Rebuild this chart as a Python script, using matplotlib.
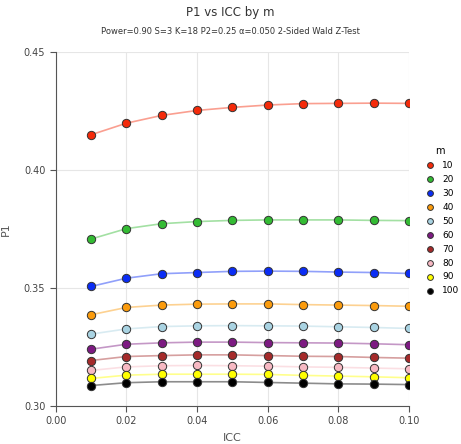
import numpy as np
import matplotlib.pyplot as plt

icc = [0.01, 0.02, 0.03, 0.04, 0.05, 0.06, 0.07, 0.08, 0.09, 0.10]
m_values = [10, 20, 30, 40, 50, 60, 70, 80, 90, 100]

p1_m10 = [0.4149, 0.4198, 0.4231, 0.4252, 0.4265, 0.4275, 0.4281, 0.4282, 0.4283, 0.4282]
p1_m20 = [0.3707, 0.3751, 0.3772, 0.3781, 0.3786, 0.3788, 0.3788, 0.3788, 0.3786, 0.3785]
p1_m30 = [0.3506, 0.3541, 0.3560, 0.3565, 0.3570, 0.3571, 0.3570, 0.3567, 0.3565, 0.3561]
p1_m40 = [0.3386, 0.3417, 0.3427, 0.3431, 0.3432, 0.3432, 0.3429, 0.3427, 0.3425, 0.3422]
p1_m50 = [0.3304, 0.3326, 0.3336, 0.3339, 0.3340, 0.3339, 0.3338, 0.3335, 0.3332, 0.3328]
p1_m60 = [0.3240, 0.3261, 0.3267, 0.3270, 0.3270, 0.3268, 0.3267, 0.3266, 0.3263, 0.3259]
p1_m70 = [0.3192, 0.3209, 0.3213, 0.3216, 0.3216, 0.3213, 0.3210, 0.3209, 0.3205, 0.3202]
p1_m80 = [0.3150, 0.3165, 0.3170, 0.3171, 0.3170, 0.3168, 0.3165, 0.3163, 0.3160, 0.3157]
p1_m90 = [0.3116, 0.3130, 0.3134, 0.3134, 0.3134, 0.3133, 0.3129, 0.3126, 0.3123, 0.3119]
p1_m100 = [0.3086, 0.3098, 0.3102, 0.3102, 0.3102, 0.3099, 0.3096, 0.3093, 0.3092, 0.3090]

series = [p1_m10, p1_m20, p1_m30, p1_m40, p1_m50, p1_m60, p1_m70, p1_m80, p1_m90, p1_m100]
colors = ['#f42a0a', '#33bb33', '#0a2cf5', '#fb9b0c', '#a9d3e2',
          '#7d1a82', '#a52a2a', '#f7b9c3', '#ffff00', '#000000']

fig = plt.figure(figsize=(4.61, 4.44), dpi=100)
ax = fig.add_axes([0.121, 0.086, 0.766, 0.797])

for m, y, c in zip(m_values, series, colors):
    ax.plot(icc, y, color=c, alpha=0.45, lw=1.2, zorder=2)
    ax.scatter(icc, y, s=36, color=c, edgecolor='#333333', linewidth=0.7,
               zorder=3, label=str(m))

ax.set_xlim(0, 0.10)
ax.set_ylim(0.30, 0.45)
ax.set_xticks(np.arange(0, 0.101, 0.02))
ax.set_yticks([0.30, 0.35, 0.40, 0.45])
ax.xaxis.set_major_formatter(plt.FormatStrFormatter('%.2f'))
ax.yaxis.set_major_formatter(plt.FormatStrFormatter('%.2f'))
ax.tick_params(labelsize=7, color='#555555', labelcolor='#444444', length=4)
ax.grid(True, color='#e6e6e6', lw=0.8, zorder=0)
ax.set_axisbelow(True)
for side in ['top', 'right']:
    ax.spines[side].set_visible(False)
for side in ['left', 'bottom']:
    ax.spines[side].set_color('#555555')

ax.set_xlabel('ICC', fontsize=8, color='#555555', labelpad=5)
ax.set_ylabel('P1', fontsize=8, color='#555555', labelpad=9)

fig.text(0.5, 0.972, 'P1 vs ICC by m', ha='center', va='center', fontsize=8.5, color='#333333')
fig.text(0.5, 0.930, 'Power=0.90 S=3 K=18 P2=0.25 \u03b1=0.050 2-Sided Wald Z-Test',
         ha='center', va='center', fontsize=6, color='#333333')

leg = ax.legend(title='m', loc='upper left', bbox_to_anchor=(1.025, 0.745), frameon=False,
                fontsize=6.5, title_fontsize=7, handletextpad=0.3, labelspacing=0.55,
                markerscale=0.7, borderaxespad=0)

fig.savefig('out.png', dpi=100)
